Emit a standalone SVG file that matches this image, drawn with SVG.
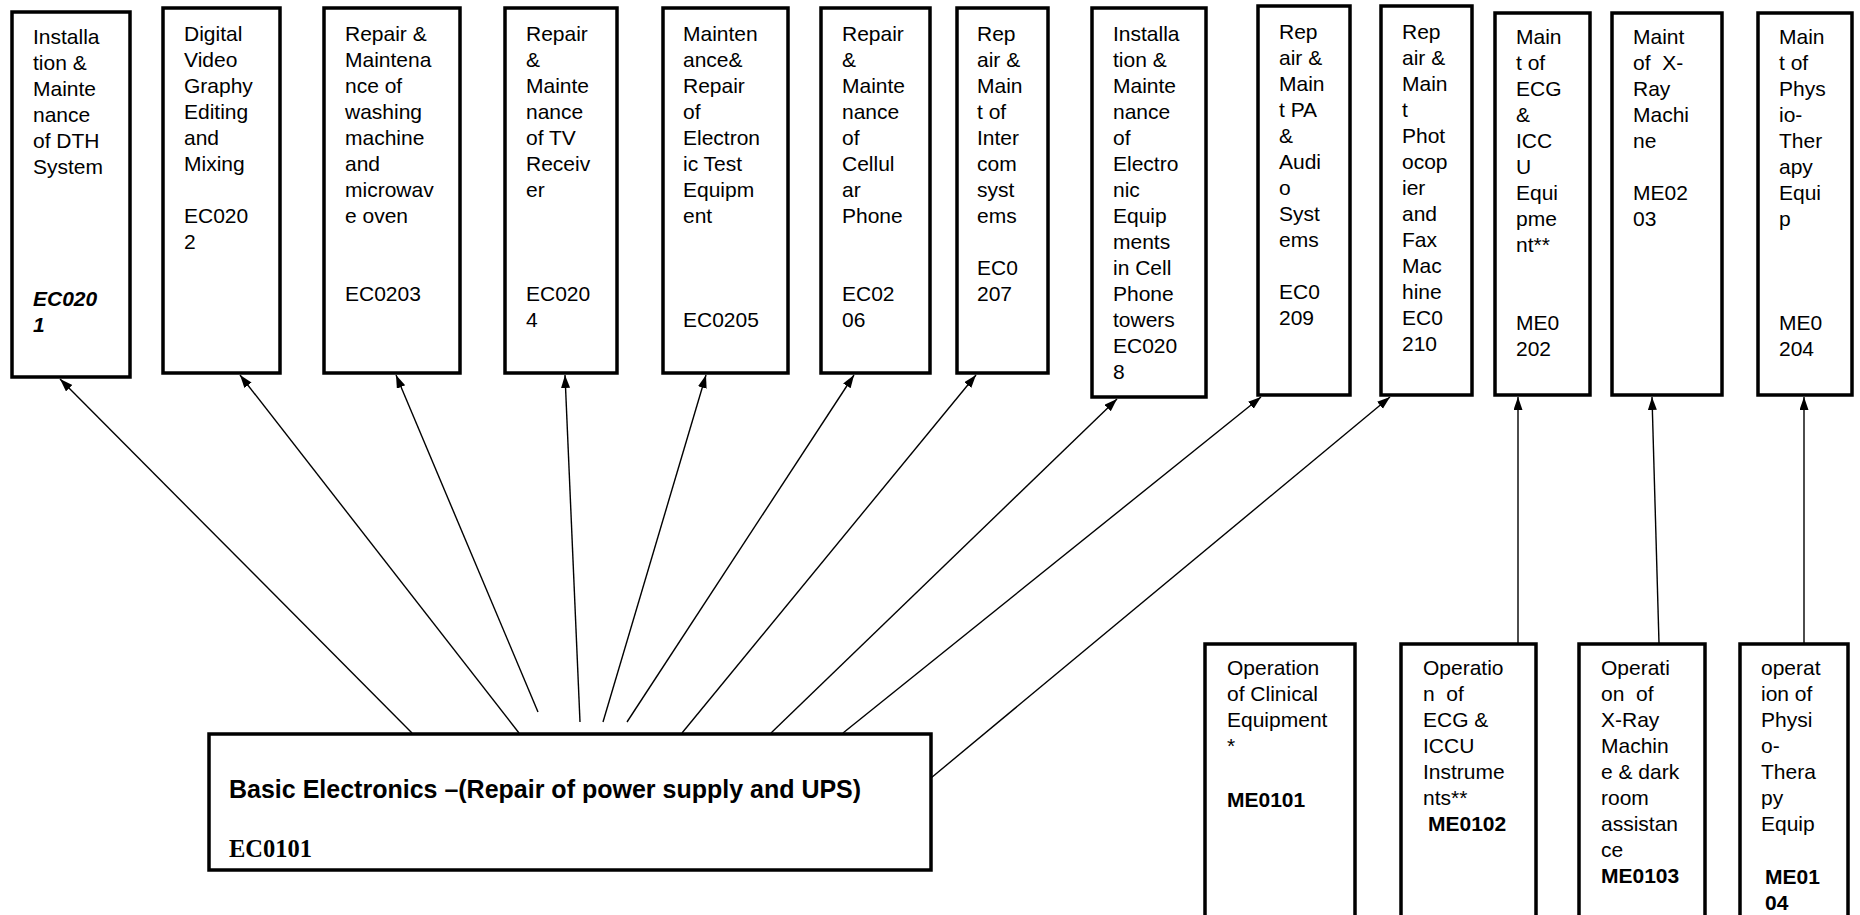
<svg xmlns="http://www.w3.org/2000/svg" width="1860" height="915" viewBox="0 0 1860 915">
<style>
.box{fill:#fff;stroke:#000;stroke-width:3.5}
.t{font-family:"Liberation Sans",Arial,sans-serif;font-size:21px;fill:#000}
.b{font-weight:bold}
.bi{font-weight:bold;font-style:italic}
.tt{font-family:"Liberation Sans",Arial,sans-serif;font-size:25px;font-weight:bold;fill:#000}
.ts{font-family:"Liberation Serif","Times New Roman",serif;font-size:24.5px;font-weight:bold;fill:#000}
.c{stroke:#000;stroke-width:1.4;fill:none}
</style>
<defs>
<marker id="ah" markerUnits="userSpaceOnUse" markerWidth="14" markerHeight="10" refX="13" refY="4.5" orient="auto">
<path d="M0,0 L13,4.5 L0,9 z" fill="#000"/>
</marker>
</defs>
<rect width="1860" height="915" fill="#fff"/>

<g id="connectors">
<line class="c" x1="412" y1="733" x2="60" y2="379" marker-end="url(#ah)"/>
<line class="c" x1="519" y1="733" x2="240" y2="375" marker-end="url(#ah)"/>
<line class="c" x1="538" y1="712" x2="396" y2="375" marker-end="url(#ah)"/>
<line class="c" x1="580" y1="722" x2="565" y2="375" marker-end="url(#ah)"/>
<line class="c" x1="603" y1="722" x2="706" y2="375" marker-end="url(#ah)"/>
<line class="c" x1="627" y1="722" x2="854" y2="375" marker-end="url(#ah)"/>
<line class="c" x1="682" y1="733" x2="976" y2="375" marker-end="url(#ah)"/>
<line class="c" x1="771" y1="733" x2="1117" y2="399" marker-end="url(#ah)"/>
<line class="c" x1="843" y1="733" x2="1261" y2="397" marker-end="url(#ah)"/>
<line class="c" x1="931" y1="778" x2="1390" y2="397" marker-end="url(#ah)"/>
<line class="c" x1="1518" y1="643" x2="1518" y2="397" marker-end="url(#ah)"/>
<line class="c" x1="1659" y1="643" x2="1652" y2="397" marker-end="url(#ah)"/>
<line class="c" x1="1804" y1="643" x2="1804" y2="397" marker-end="url(#ah)"/>
</g>

<g id="n-ec0201">
<rect class="box" x="12" y="12" width="118" height="365"/>
<text class="t"><tspan x="33" y="44">Installa</tspan><tspan x="33" y="70">tion &amp;</tspan><tspan x="33" y="96">Mainte</tspan><tspan x="33" y="122">nance</tspan><tspan x="33" y="148">of DTH</tspan><tspan x="33" y="174">System</tspan></text>
<text class="t bi"><tspan x="33" y="306">EC020</tspan><tspan x="33" y="332">1</tspan></text>
</g>

<g id="n-ec0202">
<rect class="box" x="163" y="8" width="117" height="365"/>
<text class="t"><tspan x="184" y="41">Digital</tspan><tspan x="184" y="67">Video</tspan><tspan x="184" y="93">Graphy</tspan><tspan x="184" y="119">Editing</tspan><tspan x="184" y="145">and</tspan><tspan x="184" y="171">Mixing</tspan><tspan x="184" y="223">EC020</tspan><tspan x="184" y="249">2</tspan></text>
</g>

<g id="n-ec0203">
<rect class="box" x="324" y="8" width="136" height="365"/>
<text class="t"><tspan x="345" y="41">Repair &amp;</tspan><tspan x="345" y="67">Maintena</tspan><tspan x="345" y="93">nce of</tspan><tspan x="345" y="119">washing</tspan><tspan x="345" y="145">machine</tspan><tspan x="345" y="171">and</tspan><tspan x="345" y="197">microwav</tspan><tspan x="345" y="223">e oven</tspan><tspan x="345" y="301">EC0203</tspan></text>
</g>

<g id="n-ec0204">
<rect class="box" x="505" y="8" width="112" height="365"/>
<text class="t"><tspan x="526" y="41">Repair</tspan><tspan x="526" y="67">&amp;</tspan><tspan x="526" y="93">Mainte</tspan><tspan x="526" y="119">nance</tspan><tspan x="526" y="145">of TV</tspan><tspan x="526" y="171">Receiv</tspan><tspan x="526" y="197">er</tspan><tspan x="526" y="301">EC020</tspan><tspan x="526" y="327">4</tspan></text>
</g>

<g id="n-ec0205">
<rect class="box" x="663" y="8" width="125" height="365"/>
<text class="t"><tspan x="683" y="41">Mainten</tspan><tspan x="683" y="67">ance&amp;</tspan><tspan x="683" y="93">Repair</tspan><tspan x="683" y="119">of</tspan><tspan x="683" y="145">Electron</tspan><tspan x="683" y="171">ic Test</tspan><tspan x="683" y="197">Equipm</tspan><tspan x="683" y="223">ent</tspan><tspan x="683" y="327">EC0205</tspan></text>
</g>

<g id="n-ec0206">
<rect class="box" x="821" y="8" width="109" height="365"/>
<text class="t"><tspan x="842" y="41">Repair</tspan><tspan x="842" y="67">&amp;</tspan><tspan x="842" y="93">Mainte</tspan><tspan x="842" y="119">nance</tspan><tspan x="842" y="145">of</tspan><tspan x="842" y="171">Cellul</tspan><tspan x="842" y="197">ar</tspan><tspan x="842" y="223">Phone</tspan><tspan x="842" y="301">EC02</tspan><tspan x="842" y="327">06</tspan></text>
</g>

<g id="n-ec0207">
<rect class="box" x="957" y="8" width="91" height="365"/>
<text class="t"><tspan x="977" y="41">Rep</tspan><tspan x="977" y="67">air &amp;</tspan><tspan x="977" y="93">Main</tspan><tspan x="977" y="119">t of</tspan><tspan x="977" y="145">Inter</tspan><tspan x="977" y="171">com</tspan><tspan x="977" y="197">syst</tspan><tspan x="977" y="223">ems</tspan><tspan x="977" y="275">EC0</tspan><tspan x="977" y="301">207</tspan></text>
</g>

<g id="n-ec0208">
<rect class="box" x="1092" y="8" width="114" height="389"/>
<text class="t"><tspan x="1113" y="41">Installa</tspan><tspan x="1113" y="67">tion &amp;</tspan><tspan x="1113" y="93">Mainte</tspan><tspan x="1113" y="119">nance</tspan><tspan x="1113" y="145">of</tspan><tspan x="1113" y="171">Electro</tspan><tspan x="1113" y="197">nic</tspan><tspan x="1113" y="223">Equip</tspan><tspan x="1113" y="249">ments</tspan><tspan x="1113" y="275">in Cell</tspan><tspan x="1113" y="301">Phone</tspan><tspan x="1113" y="327">towers</tspan><tspan x="1113" y="353">EC020</tspan><tspan x="1113" y="379">8</tspan></text>
</g>

<g id="n-ec0209">
<rect class="box" x="1258" y="6" width="92" height="389"/>
<text class="t"><tspan x="1279" y="39">Rep</tspan><tspan x="1279" y="65">air &amp;</tspan><tspan x="1279" y="91">Main</tspan><tspan x="1279" y="117">t PA</tspan><tspan x="1279" y="143">&amp;</tspan><tspan x="1279" y="169">Audi</tspan><tspan x="1279" y="195">o</tspan><tspan x="1279" y="221">Syst</tspan><tspan x="1279" y="247">ems</tspan><tspan x="1279" y="299">EC0</tspan><tspan x="1279" y="325">209</tspan></text>
</g>

<g id="n-ec0210">
<rect class="box" x="1381" y="6" width="91" height="389"/>
<text class="t"><tspan x="1402" y="39">Rep</tspan><tspan x="1402" y="65">air &amp;</tspan><tspan x="1402" y="91">Main</tspan><tspan x="1402" y="117">t</tspan><tspan x="1402" y="143">Phot</tspan><tspan x="1402" y="169">ocop</tspan><tspan x="1402" y="195">ier</tspan><tspan x="1402" y="221">and</tspan><tspan x="1402" y="247">Fax</tspan><tspan x="1402" y="273">Mac</tspan><tspan x="1402" y="299">hine</tspan><tspan x="1402" y="325">EC0</tspan><tspan x="1402" y="351">210</tspan></text>
</g>

<g id="n-me0202">
<rect class="box" x="1495" y="13" width="95" height="382"/>
<text class="t"><tspan x="1516" y="44">Main</tspan><tspan x="1516" y="70">t of</tspan><tspan x="1516" y="96">ECG</tspan><tspan x="1516" y="122">&amp;</tspan><tspan x="1516" y="148">ICC</tspan><tspan x="1516" y="174">U</tspan><tspan x="1516" y="200">Equi</tspan><tspan x="1516" y="226">pme</tspan><tspan x="1516" y="252">nt**</tspan><tspan x="1516" y="330">ME0</tspan><tspan x="1516" y="356">202</tspan></text>
</g>

<g id="n-me0203">
<rect class="box" x="1612" y="13" width="110" height="382"/>
<text class="t" xml:space="preserve"><tspan x="1633" y="44">Maint</tspan><tspan x="1633" y="70">of  X-</tspan><tspan x="1633" y="96">Ray</tspan><tspan x="1633" y="122">Machi</tspan><tspan x="1633" y="148">ne</tspan><tspan x="1633" y="200">ME02</tspan><tspan x="1633" y="226">03</tspan></text>
</g>

<g id="n-me0204">
<rect class="box" x="1758" y="13" width="94" height="382"/>
<text class="t"><tspan x="1779" y="44">Main</tspan><tspan x="1779" y="70">t of</tspan><tspan x="1779" y="96">Phys</tspan><tspan x="1779" y="122">io-</tspan><tspan x="1779" y="148">Ther</tspan><tspan x="1779" y="174">apy</tspan><tspan x="1779" y="200">Equi</tspan><tspan x="1779" y="226">p</tspan><tspan x="1779" y="330">ME0</tspan><tspan x="1779" y="356">204</tspan></text>
</g>

<g id="n-ec0101">
<rect class="box" x="209" y="734" width="722" height="136"/>
<text class="tt" x="229" y="798">Basic Electronics –(Repair of power supply and UPS)</text>
<text class="ts" x="229" y="857">EC0101</text>
</g>

<g id="n-me0101">
<rect class="box" x="1205" y="644" width="150" height="300"/>
<text class="t"><tspan x="1227" y="675">Operation</tspan><tspan x="1227" y="701">of Clinical</tspan><tspan x="1227" y="727">Equipment</tspan><tspan x="1227" y="753">*</tspan></text>
<text class="t b" x="1227" y="807">ME0101</text>
</g>

<g id="n-me0102">
<rect class="box" x="1401" y="644" width="135" height="300"/>
<text class="t" xml:space="preserve"><tspan x="1423" y="675">Operatio</tspan><tspan x="1423" y="701">n  of</tspan><tspan x="1423" y="727">ECG &amp;</tspan><tspan x="1423" y="753">ICCU</tspan><tspan x="1423" y="779">Instrume</tspan><tspan x="1423" y="805">nts**</tspan></text>
<text class="t b" x="1428" y="831">ME0102</text>
</g>

<g id="n-me0103">
<rect class="box" x="1579" y="644" width="126" height="300"/>
<text class="t" xml:space="preserve"><tspan x="1601" y="675">Operati</tspan><tspan x="1601" y="701">on  of</tspan><tspan x="1601" y="727">X-Ray</tspan><tspan x="1601" y="753">Machin</tspan><tspan x="1601" y="779">e &amp; dark</tspan><tspan x="1601" y="805">room</tspan><tspan x="1601" y="831">assistan</tspan><tspan x="1601" y="857">ce</tspan></text>
<text class="t b" x="1601" y="883">ME0103</text>
</g>

<g id="n-me0104">
<rect class="box" x="1740" y="644" width="108" height="300"/>
<text class="t"><tspan x="1761" y="675">operat</tspan><tspan x="1761" y="701">ion of</tspan><tspan x="1761" y="727">Physi</tspan><tspan x="1761" y="753">o-</tspan><tspan x="1761" y="779">Thera</tspan><tspan x="1761" y="805">py</tspan><tspan x="1761" y="831">Equip</tspan></text>
<text class="t b"><tspan x="1765" y="884">ME01</tspan><tspan x="1765" y="910">04</tspan></text>
</g>
</svg>
